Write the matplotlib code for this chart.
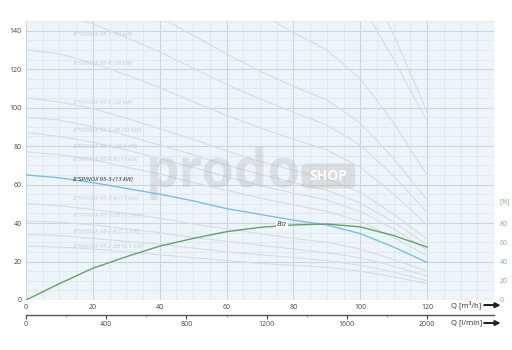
import numpy as np
import matplotlib.pyplot as plt
from matplotlib.patches import FancyBboxPatch, FancyArrow

plt.rcParams['font.family'] = ['Open Sans', 'DejaVu Sans']

# flow points [m3/h]
q = [0, 10, 20, 30, 40, 50, 60, 70, 80, 90, 100, 110, 120]

# main pump 8"SPINOX 95-3 (13 kW) head [m]
h_main = [65, 63.5, 61, 58, 55, 51.5, 47.5, 44.5, 41.5, 39, 34.5, 27.5, 19.5]
# efficiency [%]
eta = [0, 17, 33, 45, 56, 64, 71, 75.5, 78, 79, 76, 67, 55]

# other models (gray)
gray_curves = {
    '8"SPINOX 95-7 (30 kW)': [152, 149, 143.5, 136.5, 129, 120.5, 112, 104.5, 97.5, 91, 80.5, 64.5, 45.5],
    '8"SPINOX 95-6 (26 kW)': [130, 128, 123, 117, 110.5, 103, 96, 89.5, 83.5, 78, 69, 55, 39],
    '8"SPINOX 95-5 (22 kW)': [105, 103, 99.5, 94.5, 89, 83.5, 77.5, 72, 67.5, 63, 56, 44.5, 31.5],
    '8"SPINOX 95-5-4B (15 kW)': [95, 93.5, 90, 85.5, 80.5, 75.5, 70, 65.5, 61, 57, 50.5, 40.5, 28.5],
    '8"SPINOX 95-4-(18.5 kW)': [87, 85, 82, 78, 73.5, 69, 64, 59.5, 55.5, 52, 46, 37, 26],
    '8"SPINOX 95-4-B (15 kW)': [77, 75.5, 73, 69, 65.5, 61, 57, 53, 49.5, 46, 41, 32.5, 23],
    '8"SPINOX 95-3-B (11 kW)': [50, 49, 47, 45, 42.5, 39.5, 37, 34.5, 32, 30, 26.5, 21, 15],
    '8"SPINOX 95-3-BB (9.2 kW)': [41, 40.5, 39, 37, 35, 32.5, 30.5, 28.5, 26.5, 24.5, 22, 17.5, 12.5],
    '8"SPINOX 95-2-A (7.5 kW)': [34, 33.5, 32, 30.5, 29, 27, 25, 23.5, 22, 20.5, 18, 14.5, 10],
    '8"SPINOX 95-2-BB (5.5 kW)': [28, 27.5, 26.5, 25, 23.5, 22, 20.5, 19, 18, 17, 15, 12, 8.5],
}
# larger models, only their right end is visible
upper_curves = [
    [173.5, 170.5, 164, 156, 147, 137.5, 128, 119, 111, 104, 92, 73.5, 52],
    [217, 213, 205, 195, 184, 172, 160, 149, 139, 130, 115, 92, 65],
    [290, 285, 275, 262, 247, 231, 215, 200, 187, 175, 155, 125, 93],
    [326, 320, 308, 293, 276, 258, 240, 224, 209, 195, 172.5, 138, 97.5],
]
label_y = [138, 123, 102.6, 88, 80, 73, 52.6, 43.7, 35.4, 27.6]

fig = plt.figure(figsize=(5.12, 3.5), dpi=100)
ax = fig.add_axes([0.0508, 0.1429, 0.914, 0.797])
ax.set_facecolor('#edf5fb')
ax.set_xlim(0, 140)
ax.set_ylim(0, 145)

ax.set_xticks(np.arange(0, 141, 20))
ax.set_yticks(np.arange(0, 141, 20))
ax.set_xticks(np.arange(0, 141, 5), minor=True)
ax.set_yticks(np.arange(0, 146, 5), minor=True)
ax.grid(which='major', color='#cdd5dc', lw=0.8)
ax.grid(which='minor', color='#dce5ec', lw=0.5)
ax.set_xticklabels(['0', '20', '40', '60', '80', '100', '120', ''])
ax.tick_params(which='both', length=0, labelsize=5, colors='#444444', pad=3)
for s in ax.spines.values():
    s.set_visible(False)

for (name, h), ly in zip(gray_curves.items(), label_y):
    ax.plot(q, h, color='#d8dcdf', lw=0.8, zorder=2)
    ax.text(14, ly, name, fontsize=4.3, style='italic', color='#c8cdd2',
            va='center', zorder=3)
for h in upper_curves:
    ax.plot(q, h, color='#d8dcdf', lw=0.8, zorder=2)

# watermark
ax.text(36, 66, 'prodo', fontsize=38, fontweight='bold', color='#b4b4b4',
        alpha=0.32, va='center', zorder=3)
box = FancyBboxPatch((82.5, 58), 16, 13, boxstyle='round,pad=0,rounding_size=2',
                     fc='#b4b4b4', ec='none', alpha=0.35, zorder=3)
ax.add_patch(box)
ax.text(90.5, 64.5, 'SHOP', fontsize=10, fontweight='bold', color='white',
        ha='center', va='center', alpha=0.9, zorder=3)

ax.plot(q, h_main, color='#74c3e1', lw=1.0, zorder=4)
ax.text(14, 62.5, '8"SPINOX 95-3-(13 kW)', fontsize=4.3, style='italic',
        color='#222222', va='center', zorder=5)

ax2 = ax.twinx()
ax2.set_ylim(0, 290)
ax2.set_yticks([0, 20, 40, 60, 80])
ax2.tick_params(length=0, labelsize=5, colors='#7db87d', pad=4)
for s in ax2.spines.values():
    s.set_visible(False)
ax2.plot(q, eta, color='#5fa65f', lw=1.0, zorder=4)
ax2.text(76.5, 78, 'Eta', fontsize=5, style='italic', color='#333333',
         ha='center', va='center', zorder=6,
         bbox=dict(fc='white', ec='none', pad=0.8))
ax2.text(141.5, 102, '[%]', fontsize=5, color='#7db87d', va='center')

# second flow axis [l/min]
ax3 = fig.add_axes([0.0508, 0.1, 0.914, 0.0001])
ax3.set_xlim(0, 140 / 0.06)
ax3.set_yticks([])
for k in ['top', 'left', 'right']:
    ax3.spines[k].set_visible(False)
ax3.spines['bottom'].set_color('#555555')
ax3.spines['bottom'].set_linewidth(1.0)
ax3.set_xticks([0, 400, 800, 1200, 1600, 2000])
ax3.set_xticks(np.arange(0, 2001, 200), minor=True)
ax3.tick_params(which='major', length=3, direction='out', labelsize=5,
                colors='#444444', pad=1.5)
ax3.tick_params(which='minor', length=1.5, direction='out', color='#888888')

fig.text(0.88, 0.128, 'Q [m³/h]', fontsize=5.5, color='#333333', va='center')
fig.text(0.88, 0.077, 'Q [l/min]', fontsize=5.5, color='#333333', va='center')
for yy in [0.128, 0.077]:
    fig.patches.append(FancyArrow(
        0.945, yy, 0.02, 0, width=0.001, head_width=0.014, head_length=0.01,
        color='#222222', transform=fig.transFigure, figure=fig))

fig.savefig('out.png', dpi=100)
